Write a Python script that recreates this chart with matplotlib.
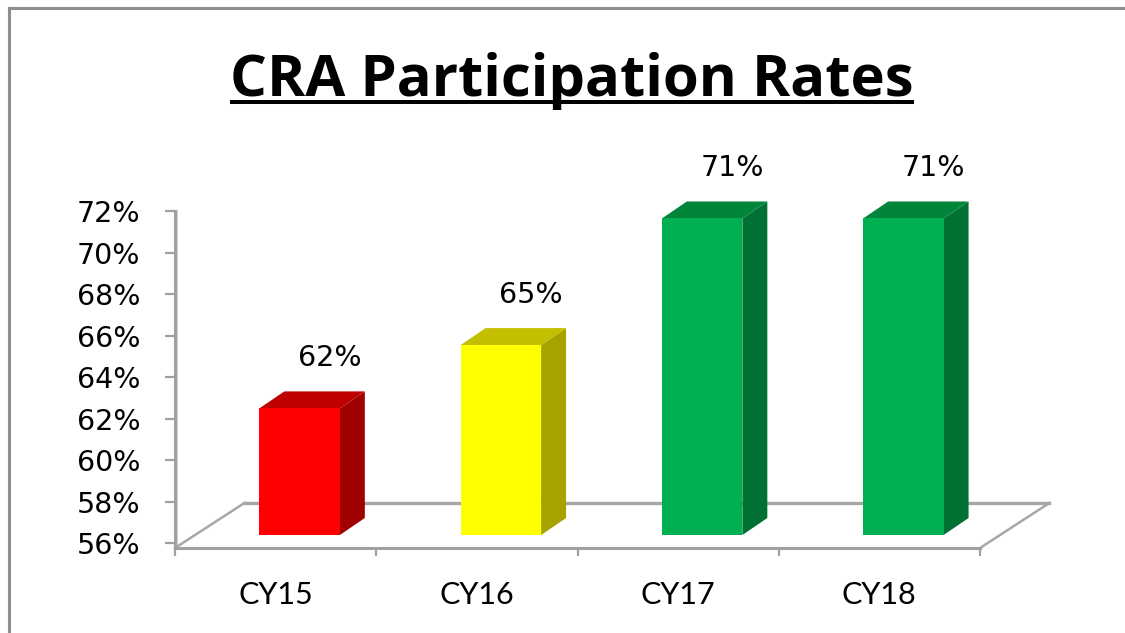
import matplotlib
matplotlib.use('Agg')
import matplotlib.pyplot as plt
from matplotlib.patches import Polygon
from matplotlib.lines import Line2D

# ---------------- data ----------------
categories = ['CY15', 'CY16', 'CY17', 'CY18']
values = [62, 65, 71, 71]
value_labels = ['62%', '65%', '71%', '71%']
yticks = [56, 58, 60, 62, 64, 66, 68, 70, 72]
ytick_labels = ['56%', '58%', '60%', '62%', '64%', '66%', '68%', '70%', '72%']
title = 'CRA Participation Rates'

front_colors = ['#FF0000', '#FFFF00', '#00B050', '#00B050']
top_colors = ['#C00000', '#C4BE00', '#00853A', '#00853A']
side_colors = ['#A00000', '#A6A200', '#007033', '#007033']

W, H = 1125, 633
fig = plt.figure(figsize=(W / 100, H / 100), dpi=100)
fig.patch.set_facecolor('white')


def rect(x0, ytop, x1, ybot):
    return [x0 / W, 1 - ybot / H, (x1 - x0) / W, (ybot - ytop) / H]


GRAY = '#A0A0A0'

# ---------------- value axis / floor ----------------
ax = fig.add_axes(rect(175, 211, 980, 548))
ax.set_xlim(-0.5, 3.5)
y_floor = 55.76
ax.set_ylim(y_floor, 72)
ax.patch.set_visible(False)
for s in ['top', 'right']:
    ax.spines[s].set_visible(False)
for s in ['left', 'bottom']:
    ax.spines[s].set_color(GRAY)
    ax.spines[s].set_linewidth(2.2)

ax.set_yticks(yticks)
ax.set_yticklabels(ytick_labels, fontsize=20.5, family='DejaVu Sans')
ax.tick_params(axis='y', length=7, width=1.6, color=GRAY, pad=18)

ax.set_xticks([-0.5, 0.5, 1.5, 2.5, 3.5])
ax.set_xticklabels([''] * 5)
ax.tick_params(axis='x', which='major', length=6, width=1.6, color=GRAY)
ax.set_xticks([0, 1, 2, 3], minor=True)
ax.set_xticklabels(categories, minor=True, fontsize=22, family='Lato')
ax.tick_params(axis='x', which='minor', length=0, pad=24)

# floor (3-D depth)
fdx, fdy = 0.345, 2.17
ax.plot([-0.5 + fdx, 3.5 + fdx], [y_floor + fdy, y_floor + fdy],
        color='#A6A6A6', lw=2.4, clip_on=False, zorder=1)
for xe in (-0.5, 3.5):
    ax.plot([xe, xe + fdx], [y_floor, y_floor + fdy], color='#A8A8A8',
            lw=1.8, clip_on=False, zorder=1)
# light shadow of the value axis
ax.plot([-0.5 + 0.012, -0.5 + 0.012], [y_floor, 72], color='#D3D3D3',
        lw=1.5, clip_on=False, zorder=0)

# ---------------- bars ----------------
bx = fig.add_axes(rect(199, 198, 1004, 535))
bx.set_xlim(-0.5, 3.5)
bx.set_ylim(56, 56 + 337 / 21.1)
bx.axis('off')

bw = 0.40
bdx, bdy = 0.124, 0.806
xs = list(range(len(categories)))
bx.bar(xs, [v - 56 for v in values], bottom=56, width=bw,
       color=front_colors, linewidth=0, zorder=3)
for x, v, tc, sc, lbl in zip(xs, values, top_colors, side_colors, value_labels):
    x0, x1 = x - bw / 2, x + bw / 2
    bx.add_patch(Polygon([(x1, 56), (x1, v), (x1 + bdx, v + bdy),
                          (x1 + bdx, 56 + bdy)], closed=True,
                         facecolor=sc, edgecolor='none', zorder=2))
    bx.add_patch(Polygon([(x0, v), (x1, v), (x1 + bdx, v + bdy),
                          (x0 + bdx, v + bdy)], closed=True,
                         facecolor=tc, edgecolor='none', zorder=2,
                         clip_on=False))
    bx.annotate(lbl, xy=(x + bdx, v + bdy), xytext=(5, 33),
                textcoords='offset pixels', ha='center', va='center',
                fontsize=20.5, family='DejaVu Sans', annotation_clip=False)

# ---------------- title ----------------
t = fig.text(572 / W, 1 - 96 / H, title, ha='center', va='baseline',
             fontsize=41.8, fontweight='bold', family='Open Sans')
fig.canvas.draw()
bb = t.get_window_extent(fig.canvas.get_renderer())
fig.add_artist(Line2D([bb.x0 / W, bb.x1 / W], [1 - 102 / H, 1 - 102 / H],
                      color='black', lw=2.9, solid_capstyle='butt'))

# ---------------- frame ----------------
fig.add_artist(Line2D([9 / W, 9 / W], [0, 1 - 8 / H], color='#8E8E8E', lw=2.2))
fig.add_artist(Line2D([9 / W, 1], [1 - 8 / H, 1 - 8 / H], color='#8E8E8E', lw=2.2))

fig.savefig('out.png', dpi=100)
